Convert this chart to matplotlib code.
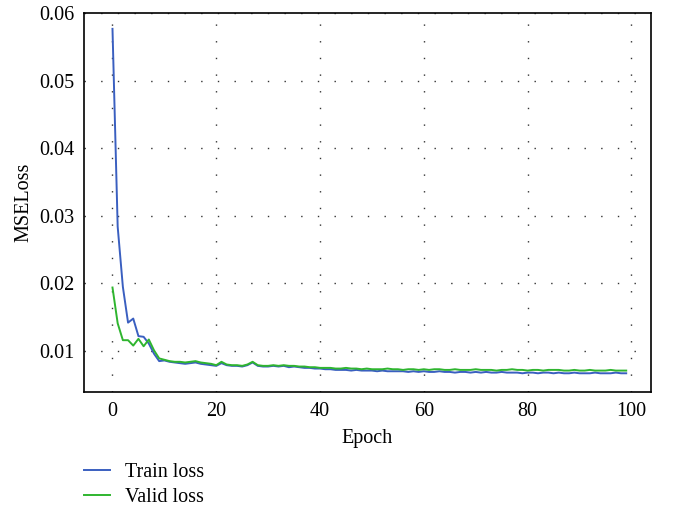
import matplotlib.pyplot as plt

epochs = list(range(100))

train_loss = [
    0.0577, 0.0284, 0.0195, 0.0142, 0.0148, 0.0122, 0.0121, 0.0111, 0.0096, 0.0085,
    0.0086, 0.0084, 0.0083, 0.0082, 0.0081, 0.0082, 0.0083, 0.0081, 0.0080, 0.0079,
    0.0078, 0.0082, 0.0079, 0.0078, 0.0078, 0.0077, 0.0079, 0.0083, 0.0078, 0.0077,
    0.0077, 0.0078, 0.0077, 0.0078, 0.0076, 0.0077, 0.0076, 0.0075, 0.0075, 0.0074,
    0.0074, 0.0073, 0.0073, 0.0072, 0.0072, 0.0072, 0.0071, 0.0072, 0.0071, 0.0071,
    0.0071, 0.0070, 0.0071, 0.0070, 0.0070, 0.0070, 0.0070, 0.0069, 0.0070, 0.0069,
    0.0070, 0.0069, 0.0069, 0.0070, 0.0069, 0.0069, 0.0068, 0.0069, 0.0069, 0.0068,
    0.0069, 0.0068, 0.0069, 0.0068, 0.0068, 0.0069, 0.0068, 0.0068, 0.0068, 0.0067,
    0.0068, 0.0068, 0.0067, 0.0068, 0.0068, 0.0067, 0.0068, 0.0067, 0.0067, 0.0068,
    0.0067, 0.0067, 0.0067, 0.0068, 0.0067, 0.0067, 0.0067, 0.0068, 0.0067, 0.0067,
]

valid_loss = [
    0.0194, 0.0141, 0.0116, 0.0116, 0.0108, 0.0118, 0.0107, 0.0117, 0.0101, 0.0089,
    0.0087, 0.0085, 0.0084, 0.0084, 0.0083, 0.0084, 0.0085, 0.0083, 0.0082, 0.0081,
    0.0079, 0.0084, 0.0080, 0.0079, 0.0079, 0.0078, 0.0080, 0.0084, 0.0079, 0.0078,
    0.0078, 0.0079, 0.0078, 0.0079, 0.0078, 0.0078, 0.0077, 0.0077, 0.0076, 0.0076,
    0.0075, 0.0075, 0.0075, 0.0074, 0.0074, 0.0075, 0.0074, 0.0074, 0.0073, 0.0074,
    0.0073, 0.0073, 0.0073, 0.0074, 0.0073, 0.0073, 0.0072, 0.0073, 0.0073, 0.0072,
    0.0073, 0.0072, 0.0073, 0.0073, 0.0072, 0.0072, 0.0073, 0.0072, 0.0072, 0.0072,
    0.0073, 0.0072, 0.0072, 0.0072, 0.0071, 0.0072, 0.0072, 0.0073, 0.0072, 0.0072,
    0.0071, 0.0072, 0.0072, 0.0071, 0.0072, 0.0072, 0.0072, 0.0071, 0.0071, 0.0072,
    0.0071, 0.0071, 0.0072, 0.0071, 0.0071, 0.0071, 0.0072, 0.0071, 0.0071, 0.0071,
]

x_ticks = [0, 20, 40, 60, 80, 100]
y_ticks = [0.01, 0.02, 0.03, 0.04, 0.05, 0.06]

plt.rcParams['font.family'] = ['Liberation Serif', 'DejaVu Serif']
plt.rcParams['font.size'] = 14.5

fig = plt.figure(figsize=(6.77, 5.12), dpi=100)
ax = fig.add_axes([0.124, 0.234, 0.837, 0.740])

ax.plot(epochs, train_loss, color='#3a5fc0', lw=1.4, label='Train loss')
ax.plot(epochs, valid_loss, color='#2fb52f', lw=1.4, label='Valid loss')

ax.set_xlim(-5.5, 103.7)
ax.set_ylim(0.0039, 0.06)
ax.set_xticks(x_ticks)
ax.set_yticks(y_ticks)
ax.set_yticklabels(['0.01', '0.02', '0.03', '0.04', '0.05', '0.06'])
ax.tick_params(length=0, pad=7)
ax.grid(True, color='0.2', linestyle=(0, (1, 11)), linewidth=1.0)
ax.set_axisbelow(True)
for s in ax.spines.values():
    s.set_linewidth(1.2)

ax.set_xlabel('Epoch', labelpad=6)
ax.set_ylabel('MSELoss', labelpad=4)

fig.legend(loc='upper left', bbox_to_anchor=(0.112, 0.112), bbox_transform=fig.transFigure,
           frameon=False, handlelength=1.3, handletextpad=0.75, labelspacing=0.3,
           borderaxespad=0)

fig.savefig('out.png', dpi=100)
